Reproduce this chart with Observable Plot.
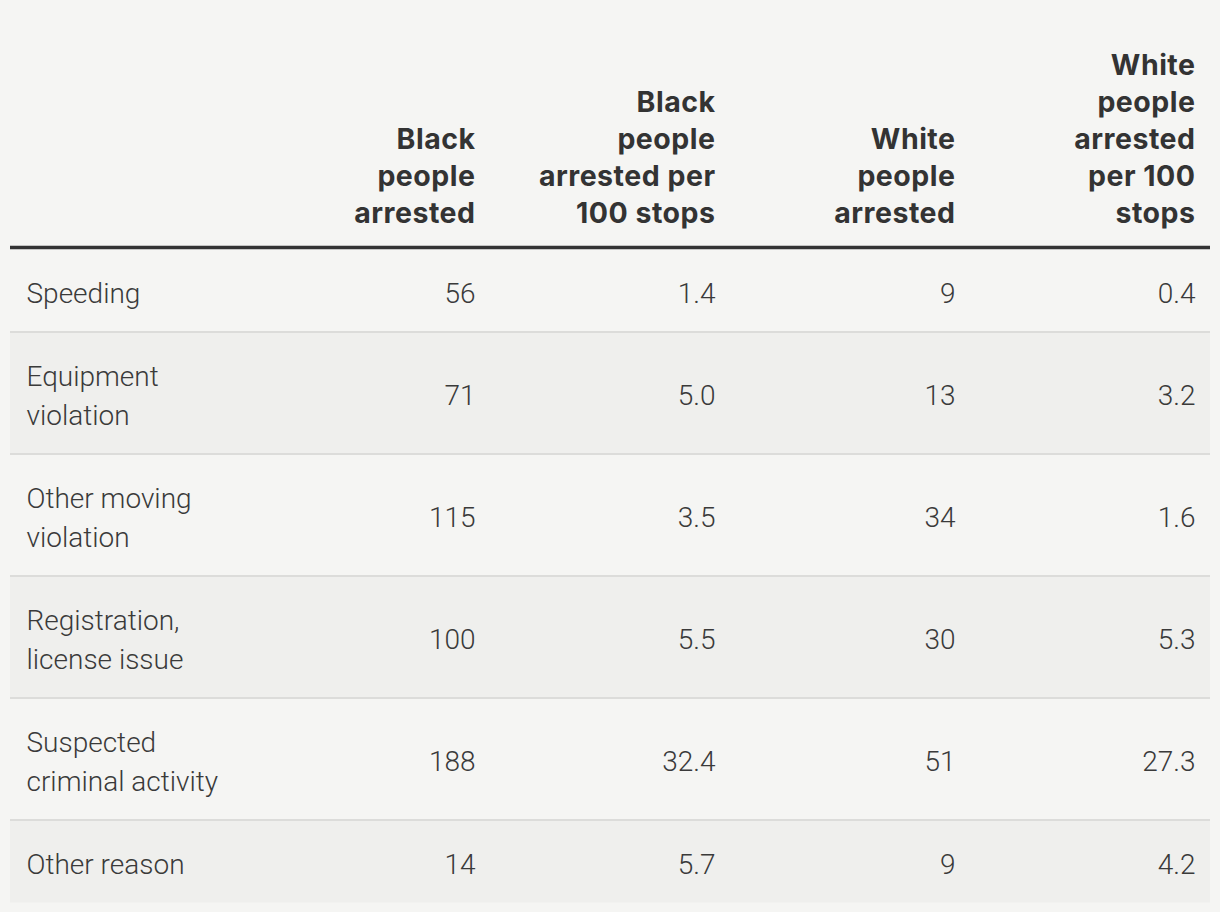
<!DOCTYPE html>
<html>
<head>
<meta charset="utf-8">
<script src="https://cdn.jsdelivr.net/npm/d3@7"></script>
<script src="https://cdn.jsdelivr.net/npm/@observablehq/plot@0.6"></script>
<style>
  html, body { margin: 0; padding: 0; background: #f5f5f3; }
  #chart svg { display: block; background: #f5f5f3; }
  #chart svg g[font-weight="700"] { letter-spacing: 0.5px; }
</style>
</head>
<body>
<div id="chart"></div>
<script>
// ---- Data ----
const columns = ["reason", "blackArrested", "blackPer100", "whiteArrested", "whitePer100"];
const headerLabels = ["", "Black\npeople\narrested", "Black\npeople\narrested per\n100 stops", "White\npeople\narrested", "White\npeople\narrested\nper 100\nstops"];
const reasons = ["Speeding", "Equipment\nviolation", "Other moving\nviolation", "Registration,\nlicense issue", "Suspected\ncriminal activity", "Other reason"];
const blackArrested = [56, 71, 115, 100, 188, 14];
const blackPer100 = [1.4, 5.0, 3.5, 5.5, 32.4, 5.7];
const whiteArrested = [9, 13, 34, 30, 51, 9];
const whitePer100 = [0.4, 3.2, 1.6, 5.3, 27.3, 4.2];

// ---- Layout (derived from line counts) ----
const W = 1220, H = 912;
const headerBottom = 247;     // heavy rule position
const headerBaseline = 222;   // last header line baseline
const linePx = 39, padPx = 22;
const bodyFont = 28, headFont = 28.5;

let yCursor = headerBottom + 1.5;
const rows = reasons.map((r, i) => {
  const lines = r.split("\n").length;
  const h = 2 * padPx + linePx * lines;
  const row = {
    i, reason: r, y1: yCursor, y2: yCursor + h, yc: yCursor + h / 2,
    blackArrested: String(blackArrested[i]),
    blackPer100: blackPer100[i].toFixed(1),
    whiteArrested: String(whiteArrested[i]),
    whitePer100: whitePer100[i].toFixed(1)
  };
  yCursor += h;
  return row;
});
const shaded = rows.filter(d => d.i % 2 === 1);
const separators = rows.slice(1);

const cells = [];
for (const r of rows) for (const c of columns.slice(1)) cells.push({col: c, y: r.yc, text: r[c]});
const headers = columns.map((c, i) => ({col: c, text: headerLabels[i]})).filter(d => d.text);

const half = 120;        // half band width
const padR = 15, padL = 16;

const chart = Plot.plot({
  width: W, height: H,
  marginLeft: 10, marginRight: 10, marginTop: 0, marginBottom: 0,
  x: {type: "band", domain: columns, padding: 0, axis: null},
  y: {type: "identity", axis: null},
  style: {background: "#f5f5f3", fontFamily: "Roboto, sans-serif", color: "#3a3a3a"},
  marks: [
    Plot.rect(shaded, {y1: "y1", y2: "y2", fill: "#efefed"}),
    Plot.ruleY(separators, {y: "y1", stroke: "#dcdcda", strokeWidth: 2}),
    Plot.ruleY([headerBottom], {stroke: "#333333", strokeWidth: 3.5}),
    Plot.text(headers, {
      x: "col", y: () => headerBaseline, text: "text",
      textAnchor: "end", dx: half - padR, lineAnchor: "bottom", lineHeight: 37 / headFont,
      fontSize: headFont, fontWeight: 700, fontFamily: "Inter, sans-serif", fill: "#333333"
    }),
    Plot.text(rows, {
      x: () => "reason", y: "yc", text: "reason",
      textAnchor: "start", dx: -half + padL, lineAnchor: "middle", lineHeight: linePx / bodyFont,
      fontSize: bodyFont, fontWeight: 300, fill: "#3a3a3a"
    }),
    Plot.text(cells, {
      x: "col", y: "y", text: "text",
      textAnchor: "end", dx: half - padR, lineAnchor: "middle", lineHeight: linePx / bodyFont,
      fontSize: bodyFont, fontWeight: 300, fill: "#3a3a3a"
    })
  ]
});
document.getElementById("chart").append(chart);
</script>
</body>
</html>
